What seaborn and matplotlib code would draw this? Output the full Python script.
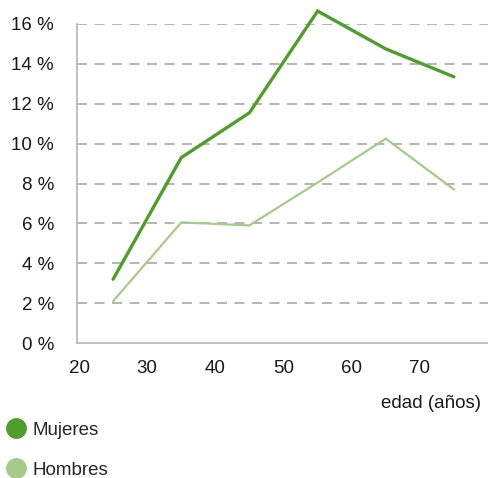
import numpy as np
import matplotlib
matplotlib.use("Agg")
import matplotlib.pyplot as plt
from matplotlib.lines import Line2D
import pandas as pd
import seaborn as sns

# datos
edad = [25, 35, 45, 55, 65, 75]
mujeres = [3.2, 9.3, 11.55, 16.65, 14.75, 13.35]
hombres = [2.1, 6.05, 5.9, 8.05, 10.25, 7.7]
series = ["Mujeres", "Hombres"]
colores = ["#4f9d2d", "#a6ca8a"]
yticks = [0, 2, 4, 6, 8, 10, 12, 14, 16]
xticks = [20, 30, 40, 50, 60, 70]

df = pd.DataFrame({
    "edad": edad * 2,
    "valor": mujeres + hombres,
    "serie": [series[0]] * len(edad) + [series[1]] * len(edad),
})

sns.set_style("white")
plt.rcParams["font.family"] = ["Liberation Sans", "DejaVu Sans"]

fig = plt.figure(figsize=(4.89, 4.78), dpi=100)
ax = fig.add_axes([0.1575, 0.2824, 0.8405, 0.6674])

sns.lineplot(data=df, x="edad", y="valor", hue="serie", palette=dict(zip(series, colores)),
             ax=ax, legend=False)
for line, lw in zip(ax.get_lines(), [2.4, 1.6]):
    line.set_linewidth(lw)
    line.set_clip_on(False)
    line.set_solid_joinstyle("miter")

ax.set_xlim(19.7, 80)
ax.set_ylim(0, 16)
ax.set_yticks(yticks)
ax.set_yticklabels([f"{v} %" for v in yticks])
ax.set_xticks(xticks)
ax.set_xticklabels([str(v) for v in xticks])

for y in yticks[1:]:
    ax.axhline(y, color="#a8a8a8", lw=1.2, ls=(0, (6, 4.5)), zorder=0)

for s in ["top", "right"]:
    ax.spines[s].set_visible(False)
for s in ["left", "bottom"]:
    ax.spines[s].set_color("#b5b5b5")
    ax.spines[s].set_linewidth(1.2)

fs = 13.5
ax.tick_params(axis="y", direction="out", length=6, color="#b5b5b5", width=1,
               labelsize=fs, pad=10.5, labelcolor="#1a1a1a")
ax.tick_params(axis="x", direction="in", length=7, color="#b5b5b5", width=1,
               labelsize=fs, pad=12.5, labelcolor="#1a1a1a")
ax.set_xlabel("")
ax.set_ylabel("")

fig.text(481 / 489, 1 - 403 / 478, "edad (años)", ha="right", va="center",
         fontsize=fs, color="#1a1a1a")

handles = [Line2D([], [], ls="", marker="o", markersize=14, color=c) for c in colores]
fig.legend(handles, series, loc="upper left", bbox_to_anchor=(-0.012, 1 - 414 / 478),
           frameon=False, fontsize=fs, handletextpad=0.12, labelspacing=1.22,
           handlelength=1.5, borderaxespad=0)

fig.savefig("out.png", dpi=100)
